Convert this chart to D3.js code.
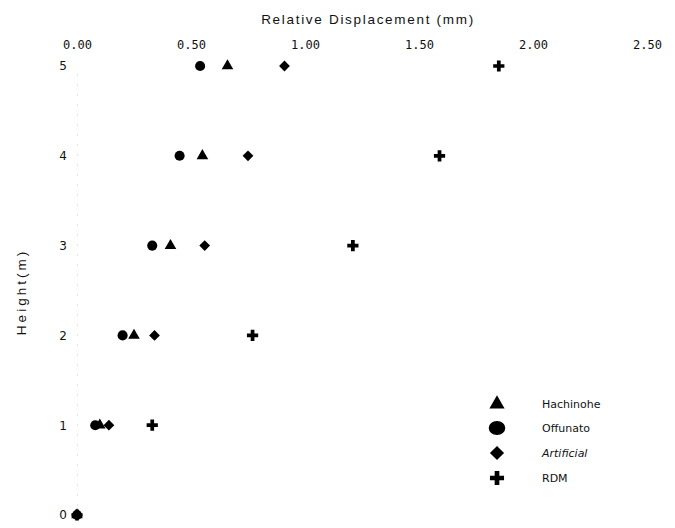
<!DOCTYPE html>
<html>
<head>
<meta charset="utf-8">
<script src="https://cdn.jsdelivr.net/npm/d3@7"></script>
<style>
  body { margin: 0; background: #fff; }
  svg { display: block; }
</style>
</head>
<body>
<svg id="chart" width="675" height="528"></svg>
<script>
// Storey heights (m) and relative displacement (mm) per record
const heights = [0, 1, 2, 3, 4, 5];
const hachinohe = [0, 0.10, 0.25, 0.41, 0.55, 0.66];
const offunato = [0, 0.08, 0.20, 0.33, 0.45, 0.54];
const artificial = [0, 0.14, 0.34, 0.56, 0.75, 0.91];
const rdm = [0, 0.33, 0.77, 1.21, 1.59, 1.85];

const xTicks = [0, 0.5, 1.0, 1.5, 2.0, 2.5];
const yTicks = [0, 1, 2, 3, 4, 5];
const seriesNames = ["Hachinohe", "Offunato", "Artificial", "RDM"];

const svg = d3.select("#chart");
const x = d3.scaleLinear().domain([0, 2.5]).range([77, 647]);
const y = d3.scaleLinear().domain([0, 5]).range([515, 66]);

const symbolTypes = {
  Hachinohe: d3.symbolTriangle,
  Offunato: d3.symbolCircle,
  Artificial: d3.symbolSquare,
  RDM: d3.symbolCross
};
const markerSize = { Hachinohe: 58, Offunato: 80, Artificial: 58, RDM: 70 };
const legendSize = { Hachinohe: 100, Offunato: 150, Artificial: 100, RDM: 110 };
const rotation = { Hachinohe: 0, Offunato: 0, Artificial: 45, RDM: 0 };
const values = { Hachinohe: hachinohe, Offunato: offunato, Artificial: artificial, RDM: rdm };

// Top axis (labels only)
const xAxis = d3.axisTop(x).tickValues(xTicks).tickFormat(d3.format(".2f")).tickSize(0);
const gx = svg.append("g").attr("transform", "translate(0,52)").call(xAxis);
gx.select(".domain").remove();
gx.selectAll("text")
  .attr("font-family", "'DejaVu Sans Mono', monospace")
  .attr("font-size", 12)
  .attr("fill", "#111");

// Left axis (faint dotted spine)
const yAxis = d3.axisLeft(y).tickValues(yTicks).tickFormat(d3.format("d")).tickSize(0).tickPadding(10);
const gy = svg.append("g").attr("transform", "translate(77,0)").call(yAxis);
gy.select(".domain").attr("stroke", "#bbb").attr("stroke-width", 0.8).attr("stroke-dasharray", "1,9");
gy.selectAll("text")
  .attr("font-family", "'DejaVu Sans', sans-serif")
  .attr("font-size", 12)
  .attr("fill", "#111");

// Axis titles
svg.append("text")
  .attr("x", 368).attr("y", 24)
  .attr("text-anchor", "middle")
  .attr("font-family", "'Liberation Sans', Arial, sans-serif")
  .attr("font-size", 13.5)
  .attr("letter-spacing", 1.7)
  .attr("fill", "#111")
  .text("Relative Displacement (mm)");

svg.append("text")
  .attr("transform", "translate(26,292) rotate(-90)")
  .attr("text-anchor", "middle")
  .attr("font-family", "'Liberation Sans', Arial, sans-serif")
  .attr("font-size", 13.5)
  .attr("letter-spacing", 3)
  .attr("fill", "#111")
  .text("Height(m)");

// Markers for each record
seriesNames.forEach(name => {
  svg.append("g").selectAll("path")
    .data(heights.map((h, i) => ({ h, v: values[name][i] })))
    .join("path")
    .attr("d", d3.symbol().type(symbolTypes[name]).size(markerSize[name]))
    .attr("transform", d => `translate(${x(d.v)},${y(d.h)}) rotate(${rotation[name]})`)
    .attr("fill", "#000");
});

// Legend
const legend = svg.append("g");
const legendY = [404, 428, 453, 478];
seriesNames.forEach((name, i) => {
  legend.append("path")
    .attr("d", d3.symbol().type(symbolTypes[name]).size(legendSize[name]))
    .attr("transform", `translate(497,${legendY[i]}) rotate(${rotation[name]})${name === "Offunato" ? " scale(1.2,1)" : ""}`)
    .attr("fill", "#000");
  legend.append("text")
    .attr("x", 542).attr("y", legendY[i] + 4)
    .attr("font-family", "'DejaVu Sans', sans-serif")
    .attr("font-size", 11)
    .attr("font-style", name === "Artificial" ? "italic" : "normal")
    .attr("fill", "#111")
    .text(name);
});
</script>
</body>
</html>
